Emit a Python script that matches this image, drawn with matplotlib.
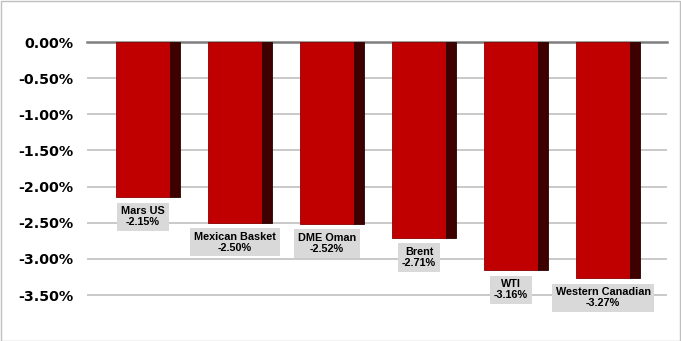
import matplotlib
matplotlib.use("Agg")
import matplotlib.pyplot as plt
from matplotlib.patches import Rectangle
from matplotlib.ticker import FuncFormatter

categories = ["Mars US", "Mexican Basket", "DME Oman", "Brent", "WTI", "Western Canadian"]
values = [-2.15, -2.50, -2.52, -2.71, -3.16, -3.27]
y_ticks = [0.0, -0.5, -1.0, -1.5, -2.0, -2.5, -3.0, -3.5]

W, H = 681, 341
fig = plt.figure(figsize=(W / 100, H / 100), dpi=100)
fig.patch.set_facecolor("white")
# outer border
fig.patches.append(Rectangle((0.5 / W, 0.5 / H), 1 - 1.5 / W, 1 - 1.5 / H, transform=fig.transFigure,
                             fill=False, edgecolor="#BFBFBF", linewidth=1.0))

ax = fig.add_axes([87 / W, 1 - 320 / H, 580 / W, 278 / H])
ax.set_xlim((87 - 148) / 92, (667 - 148) / 92)
ax.set_ylim(-278 / 72.29, 0)

front_w = 54 / 92
side_w = 10 / 92
left_off = 32 / 92
for i, v in enumerate(values):
    x0 = i - left_off
    ax.add_patch(Rectangle((x0, v), front_w, -v, facecolor="#C00000", edgecolor="#8B0000",
                           linewidth=0.6, zorder=3))
    ax.add_patch(Rectangle((x0 + front_w, v), side_w, -v, facecolor="#3F0000", edgecolor="#2A0000",
                           linewidth=0.6, zorder=3))
    ax.annotate(f"{categories[i]}\n{v:.2f}%", xy=(x0 + front_w / 2, v), xytext=(0, -6.5),
                textcoords="offset points", ha="center", va="top", ma="center",
                fontsize=7.8, fontweight="bold", family="Liberation Sans", linespacing=1.1,
                bbox=dict(boxstyle="square,pad=0.35", facecolor="#D9D9D9", edgecolor="none"),
                zorder=4)

ax.set_yticks(y_ticks)
ax.yaxis.set_major_formatter(FuncFormatter(lambda y, p: f"{y:.2f}%"))
ax.grid(axis="y", color="#C0C0C0", linewidth=1.2, zorder=0)
ax.axhline(0, color="#7F7F7F", linewidth=1.8, zorder=2, clip_on=False)
ax.set_xticks([])
for s in ax.spines.values():
    s.set_visible(False)
ax.tick_params(axis="y", length=0, pad=9.5)
for lbl in ax.get_yticklabels():
    lbl.set_fontsize(10.3)
    lbl.set_fontweight("bold")
    lbl.set_family("DejaVu Sans")

fig.savefig("out.png", dpi=100)
